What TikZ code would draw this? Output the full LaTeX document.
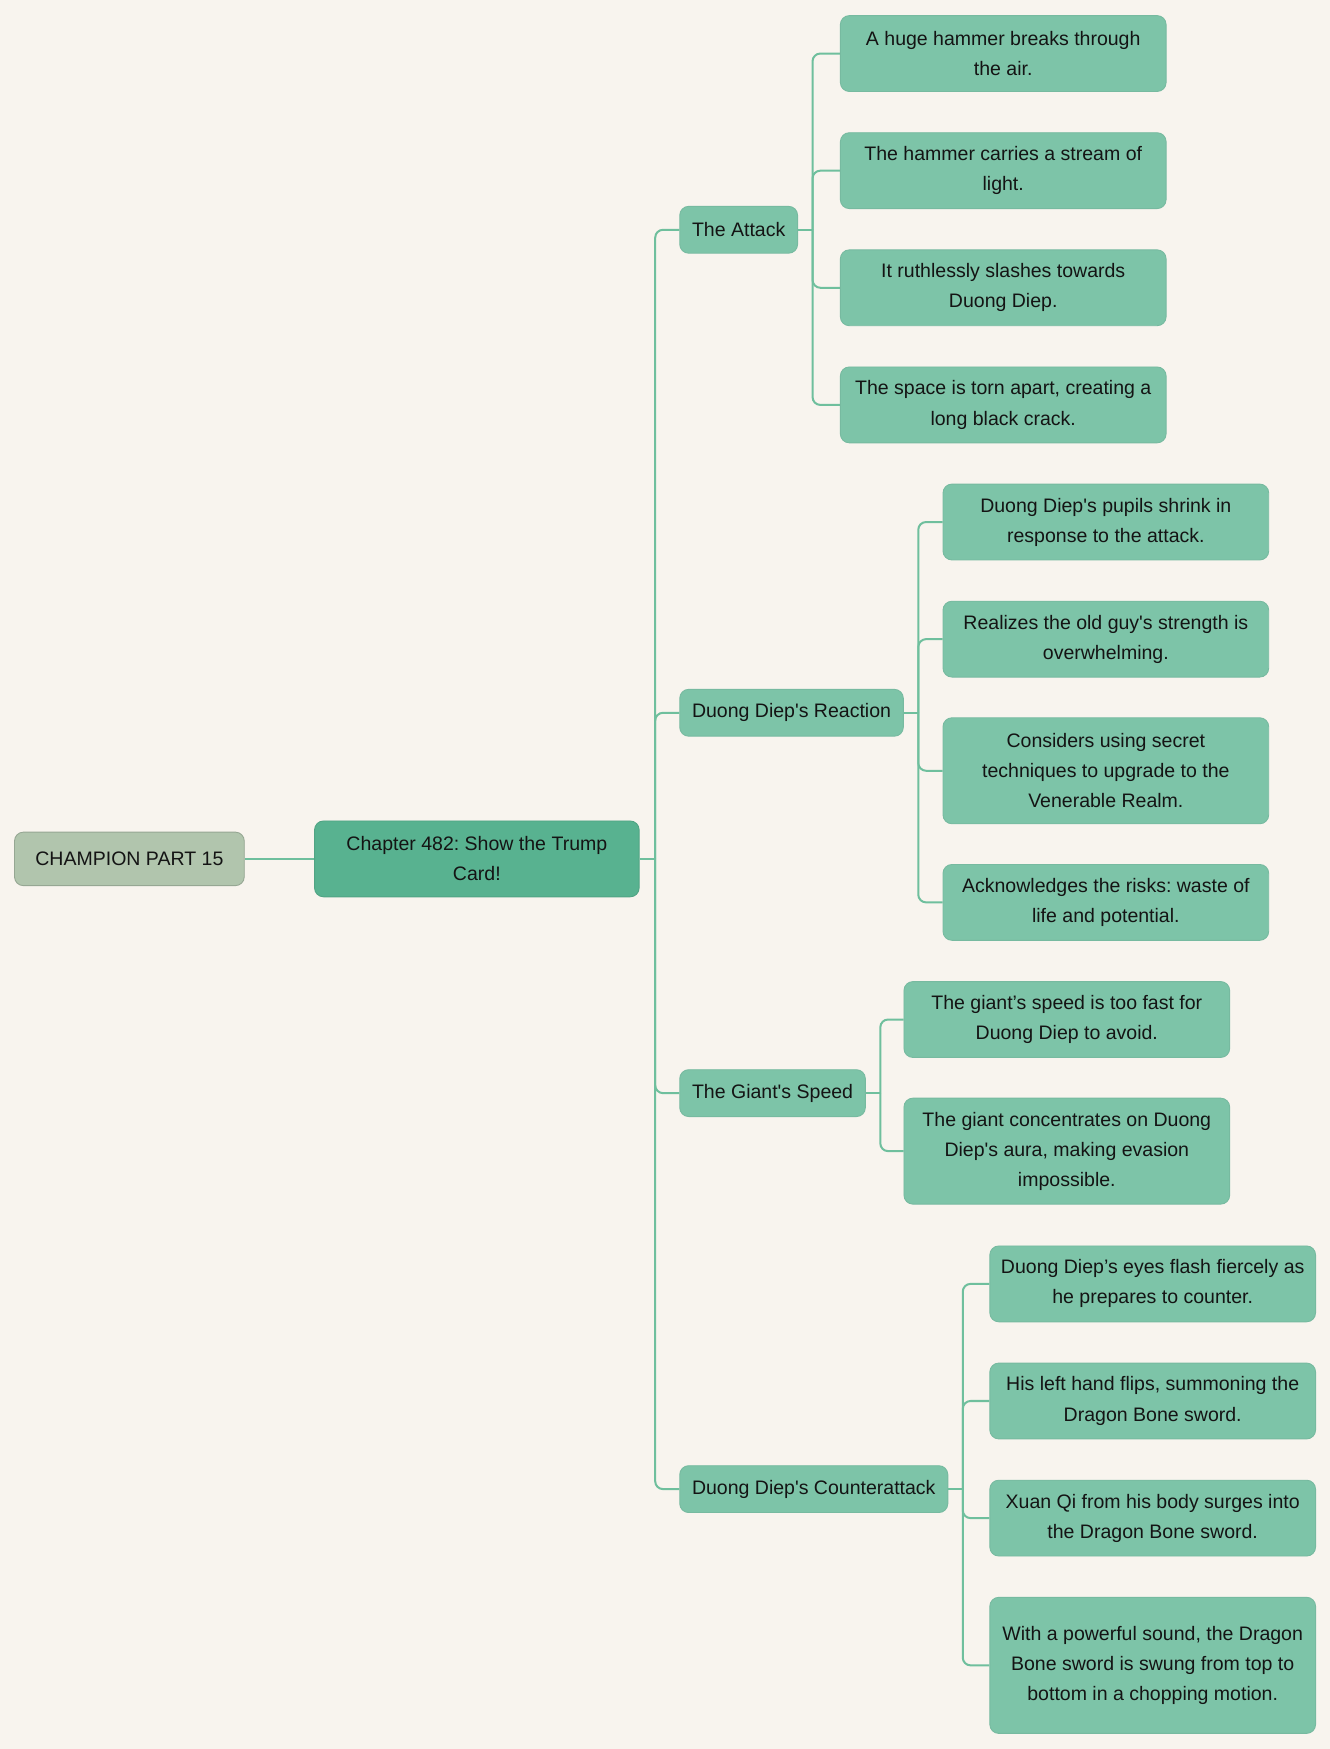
\documentclass[tikz,border=0pt]{standalone}
\usepackage{fontspec}
\setmainfont{Liberation Sans}
\frenchspacing
\newcommand{\apos}{\textquotesingle}
\definecolor{paper}{HTML}{F8F4EE}
\definecolor{leaf}{HTML}{7DC4A8}
\definecolor{chapfill}{HTML}{58B290}
\definecolor{rootfill}{HTML}{B1C5AD}
\definecolor{link}{HTML}{6FBF9D}
\tikzset{
  box/.style={rounded corners=8pt, align=center, inner xsep=4pt,
    font=\fontsize{17.5}{27}\selectfont, text=black!92},
  leafbox/.style={box, fill=leaf, draw=leaf!95!black, line width=0.8pt,
    anchor=west, minimum width=292pt, minimum height=68pt},
  topic/.style={box, fill=leaf, draw=leaf!95!black, line width=0.8pt,
    anchor=west, inner xsep=11pt, minimum height=42pt},
  chapbox/.style={box, fill=chapfill, draw=chapfill!92!black, line width=0.8pt,
    minimum width=291pt, minimum height=68pt},
  rootbox/.style={box, fill=rootfill, draw=rootfill!85!black, line width=0.8pt,
    minimum width=206pt, minimum height=48pt},
  link/.style={draw=link, line width=1.8pt},
}
\begin{document}
\begin{tikzpicture}[x=1pt, y=-1pt]
    \fill[paper] (0,0) rectangle (1192,1568);
    \useasboundingbox (0,0) rectangle (1192,1568);

    \node[rootbox] (root) at (116,770) {CHAMPION PART 15};
    \node[chapbox] (chap) at (427.5,770) {Chapter 482: Show the Trump\\Card!};

    \node[topic] (att) at (609,206) {The Attack};
    \node[topic] (rea) at (609,639) {Duong Diep\apos s Reaction};
    \node[topic] (spd) at (609,980) {The Giant\apos s Speed};
    \node[topic] (cnt) at (609,1335) {Duong Diep\apos s Counterattack};

    % The Attack
    \node[leafbox] (att1) at (753,48) {A huge hammer breaks through\\the air.};
    \node[leafbox] (att2) at (753,153) {The hammer carries a stream of\\light.};
    \node[leafbox] (att3) at (753,258) {It ruthlessly slashes towards\\Duong Diep.};
    \node[leafbox] (att4) at (753,363) {The space is torn apart, creating a\\long black crack.};

    % Duong Diep's Reaction
    \node[leafbox] (rea1) at (845,468) {Duong Diep\apos s pupils shrink in\\response to the attack.};
    \node[leafbox] (rea2) at (845,573) {Realizes the old guy\apos s strength is\\overwhelming.};
    \node[leafbox, minimum height=95pt] (rea3) at (845,691) {Considers using secret\\techniques to upgrade to the\\Venerable Realm.};
    \node[leafbox] (rea4) at (845,809) {Acknowledges the risks: waste of\\life and potential.};

    % The Giant's Speed
    \node[leafbox] (spd1) at (810,914) {The giant’s speed is too fast for\\Duong Diep to avoid.};
    \node[leafbox, minimum height=95pt] (spd2) at (810,1032) {The giant concentrates on Duong\\Diep\apos s aura, making evasion\\impossible.};

    % Duong Diep's Counterattack
    \node[leafbox] (cnt1) at (887,1151) {Duong Diep’s eyes flash fiercely as\\he prepares to counter.};
    \node[leafbox] (cnt2) at (887,1256) {His left hand flips, summoning the\\Dragon Bone sword.};
    \node[leafbox] (cnt3) at (887,1361) {Xuan Qi from his body surges into\\the Dragon Bone sword.};
    \node[leafbox, minimum height=122pt] (cnt4) at (887,1493) {With a powerful sound, the Dragon\\Bone sword is swung from top to\\bottom in a chopping motion.};

    \draw[link] (root) -- (chap);

    \coordinate (j0) at ([xshift=14pt]chap.east);
    \draw[link] (chap.east) -- (j0);
    \foreach \t in {att,rea,spd,cnt}
        \draw[link, rounded corners=7pt] (j0) |- (\t.west);

    \foreach \t/\n in {att/4,rea/4,spd/2,cnt/4} {
        \coordinate (j\t) at ([xshift=13pt]\t.east);
        \draw[link] (\t.east) -- (j\t);
        \foreach \i in {1,...,\n}
            \draw[link, rounded corners=7pt] (j\t) |- (\t\i.west);
    }
\end{tikzpicture}
\end{document}
